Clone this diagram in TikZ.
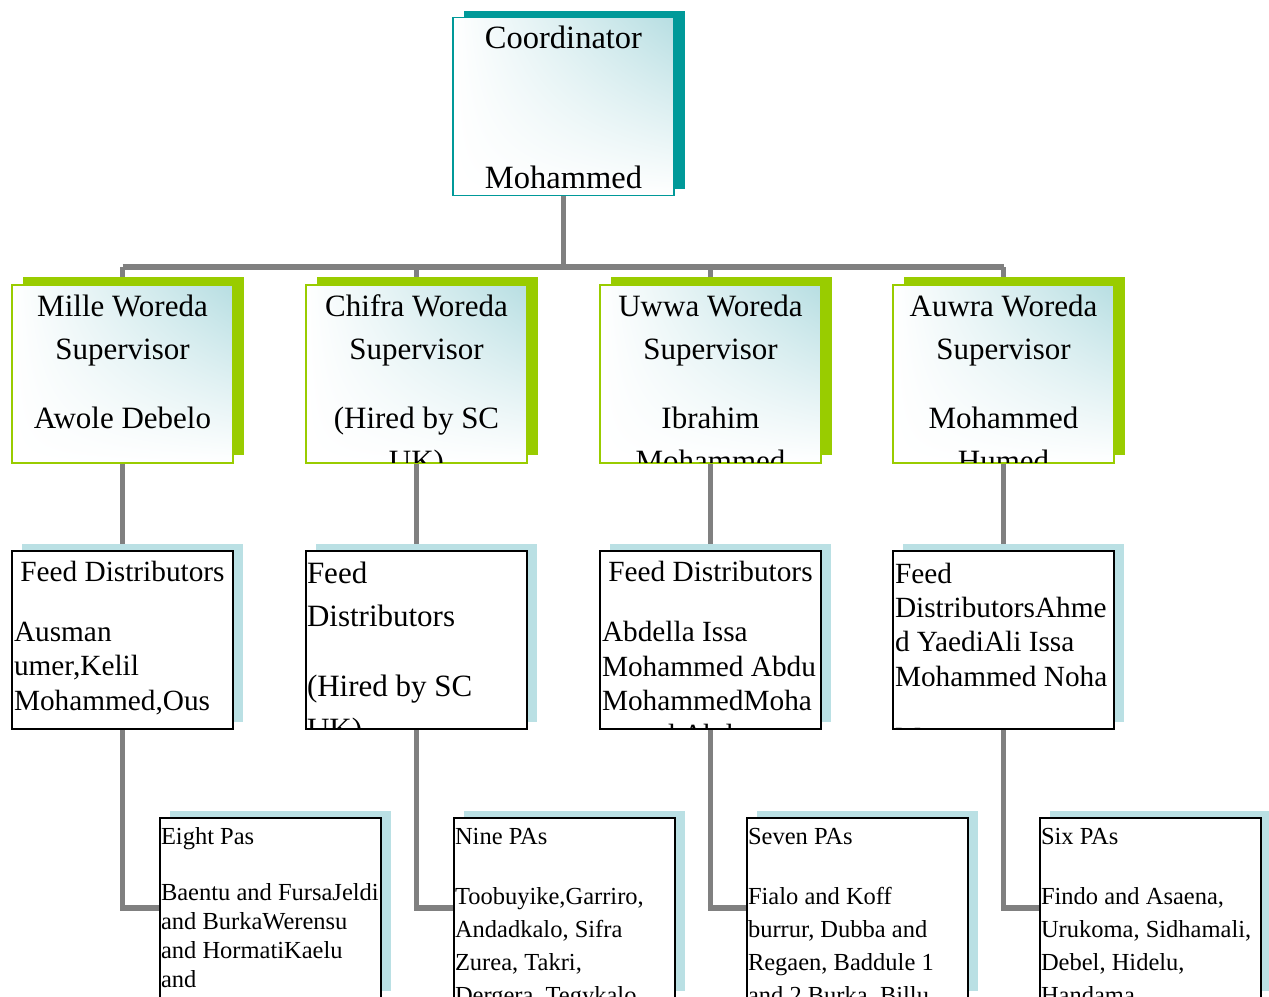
\documentclass[tikz,border=0pt]{standalone}
\usepackage{fontspec}
\setmainfont{Liberation Serif}
\usetikzlibrary{shadows,calc,shadings}
\definecolor{tealc}{RGB}{0,153,153}
\definecolor{greenc}{RGB}{153,204,0}
\definecolor{lblue}{RGB}{183,222,226}
\definecolor{shadc}{RGB}{186,224,228}
\definecolor{connc}{RGB}{128,128,128}
\newcommand\fcoord{\fontsize{32.5}{40}\selectfont}
\newcommand\fsup{\fontsize{31}{40}\selectfont}
\newcommand\ffeed{\fontsize{29.3}{35}\selectfont}
\newcommand\fpa{\fontsize{24.5}{30}\selectfont}
\newcommand\clipbox[1]{\clip ($(#1.south west)+(1,-1)$) rectangle ($(#1.north east)+(-1,1)$);}
\pgfdeclarelayer{paper}
\pgfdeclarelayer{bg}
\pgfsetlayers{paper,bg,main}
\begin{document}
\begin{tikzpicture}[x=1pt,y=-1pt,
  box/.style={rectangle, minimum width=221pt, minimum height=178pt, inner sep=0pt, outer sep=0pt},
  coordbox/.style={box, draw=tealc, line width=1.5pt, shading=bilinear interpolation, upper left=white, upper right=lblue, lower left=white, lower right=white,
    general shadow={fill=tealc, shadow xshift=11pt, shadow yshift=7pt}},
  supbox/.style={box, draw=greenc, line width=1.5pt, shading=bilinear interpolation, upper left=white, upper right=lblue, lower left=white, lower right=white,
    general shadow={fill=greenc, shadow xshift=11pt, shadow yshift=8pt}},
  plainbox/.style={box, draw=black, line width=1.5pt, fill=white,
    general shadow={fill=shadc, shadow xshift=10pt, shadow yshift=7pt}},
  pabox/.style={plainbox, minimum height=179.5pt},
  conn/.style={draw=connc, line width=5.5pt},
  ctxt/.style={inner sep=0pt, outer sep=0pt, anchor=base},
  ltxt/.style={inner sep=0pt, outer sep=0pt, anchor=base west},
]
\useasboundingbox (0,0) rectangle (1269,996);
\begin{pgfonlayer}{paper}
\fill[white] (0,0) rectangle (1269,996);
\end{pgfonlayer}

% boxes
\node[coordbox] (coord) at (563.5,106.5) {};
\node[supbox] (sup1) at (122.5,374) {};
\node[supbox] (sup2) at (416.5,374) {};
\node[supbox] (sup3) at (710.5,374) {};
\node[supbox] (sup4) at (1003.5,374) {};
\node[plainbox] (feed1) at (122.5,640) {};
\node[plainbox] (feed2) at (416.5,640) {};
\node[plainbox] (feed3) at (710.5,640) {};
\node[plainbox] (feed4) at (1003.5,640) {};
\node[pabox] (pa1) at (270.5,907.75) {};
\node[pabox] (pa2) at (564.5,907.75) {};
\node[pabox] (pa3) at (857.5,907.75) {};
\node[pabox] (pa4) at (1150.5,907.75) {};

% connectors
\begin{pgfonlayer}{bg}
\coordinate (bus) at (563.5,267);
\draw[conn] (coord.south) -- (bus);
\draw[conn] (sup1.north |- bus) -- (sup4.north |- bus);
\foreach \i in {1,2,3,4}{
  \draw[conn] (sup\i.north |- bus) -- (sup\i.north);
  \draw[conn] (sup\i.south) -- (feed\i.north);
  \draw[conn] (feed\i.south) |- (pa\i.west);
}
\end{pgfonlayer}

% coordinator text
\begin{scope}\clipbox{coord}
\node[ctxt, font=\fcoord] (c1) at (563.5,48) {Coordinator};
\node[ctxt, font=\fcoord] (c2) at (563.5,188) {Mohammed};
\end{scope}

% supervisors
\begin{scope}\clipbox{sup1}
\node[ctxt, font=\fsup] (s11) at (122.5,316) {Mille Woreda};
\node[ctxt, font=\fsup] (s12) at (122.5,359) {Supervisor};
\node[ctxt, font=\fsup] (s13) at (122.5,428) {Awole Debelo};
\end{scope}
\begin{scope}\clipbox{sup2}
\node[ctxt, font=\fsup] (s21) at (416.5,316) {Chifra Woreda};
\node[ctxt, font=\fsup] (s22) at (416.5,359) {Supervisor};
\node[ctxt, font=\fsup] (s23) at (416.5,428) {(Hired by SC};
\node[ctxt, font=\fsup] (s24) at (416.5,471) {UK)};
\end{scope}
\begin{scope}\clipbox{sup3}
\node[ctxt, font=\fsup] (s31) at (710.5,316) {Uwwa Woreda};
\node[ctxt, font=\fsup] (s32) at (710.5,359) {Supervisor};
\node[ctxt, font=\fsup] (s33) at (710.5,428) {Ibrahim};
\node[ctxt, font=\fsup] (s34) at (710.5,471) {Mohammed};
\end{scope}
\begin{scope}\clipbox{sup4}
\node[ctxt, font=\fsup] (s41) at (1003.5,316) {Auwra Woreda};
\node[ctxt, font=\fsup] (s42) at (1003.5,359) {Supervisor};
\node[ctxt, font=\fsup] (s43) at (1003.5,428) {Mohammed};
\node[ctxt, font=\fsup] (s44) at (1003.5,471) {Humed};
\end{scope}

% feed distributors
\begin{scope}\clipbox{feed1}
\node[ctxt, font=\ffeed] (f11) at (122.5,581) {Feed Distributors};
\node[ltxt, font=\ffeed] (f12) at (14,641) {Ausman};
\node[ltxt, font=\ffeed] (f13) at (14,675) {umer,Kelil};
\node[ltxt, font=\ffeed] (f14) at (14,710) {Mohammed,Ous};
\end{scope}
\begin{scope}\clipbox{feed2}
\node[ltxt, font=\fsup] (f21) at (307,583) {Feed};
\node[ltxt, font=\fsup] (f22) at (307,626) {Distributors};
\node[ltxt, font=\fsup] (f23) at (307,696) {(Hired by SC};
\node[ltxt, font=\fsup] (f24) at (307,739) {UK)};
\end{scope}
\begin{scope}\clipbox{feed3}
\node[ctxt, font=\ffeed] (f31) at (710.5,581) {Feed Distributors};
\node[ltxt, font=\ffeed] (f32) at (602,641) {Abdella Issa};
\node[ltxt, font=\ffeed] (f33) at (602,676) {Mohammed Abdu};
\node[ltxt, font=\ffeed] (f34) at (602,710) {MohammedMoha};
\node[ltxt, font=\ffeed] (f35) at (602,744) {mmed Abdu};
\end{scope}
\begin{scope}\clipbox{feed4}
\node[ltxt, font=\ffeed] (f41) at (895,583) {Feed};
\node[ltxt, font=\ffeed] (f42) at (895,617) {DistributorsAhme};
\node[ltxt, font=\ffeed] (f43) at (895,651) {d YaediAli Issa};
\node[ltxt, font=\ffeed] (f44) at (895,686) {Mohammed Noha};
\node[ltxt, font=\ffeed] (f45) at (895,747) {M};
\end{scope}

% PAs
\begin{scope}\clipbox{pa1}
\node[ltxt, font=\fpa] (p11) at (161,844) {Eight Pas};
\node[ltxt, font=\fpa] (p12) at (161,900) {Baentu and FursaJeldi};
\node[ltxt, font=\fpa] (p13) at (161,929) {and BurkaWerensu};
\node[ltxt, font=\fpa] (p14) at (161,958) {and HormatiKaelu};
\node[ltxt, font=\fpa] (p15) at (161,987) {and};
\end{scope}
\begin{scope}\clipbox{pa2}
\node[ltxt, font=\fpa] (p21) at (455,844) {Nine PAs};
\node[ltxt, font=\fpa] (p22) at (455,904) {Toobuyike,Garriro,};
\node[ltxt, font=\fpa] (p23) at (455,937) {Andadkalo, Sifra};
\node[ltxt, font=\fpa] (p24) at (455,970) {Zurea, Takri,};
\node[ltxt, font=\fpa] (p25) at (455,1003) {Dergera, Tegykalo};
\end{scope}
\begin{scope}\clipbox{pa3}
\node[ltxt, font=\fpa] (p31) at (748,844) {Seven PAs};
\node[ltxt, font=\fpa] (p32) at (748,904) {Fialo and Koff};
\node[ltxt, font=\fpa] (p33) at (748,937) {burrur, Dubba and};
\node[ltxt, font=\fpa] (p34) at (748,970) {Regaen, Baddule 1};
\node[ltxt, font=\fpa] (p35) at (748,1003) {and 2 Burka, Billu};
\end{scope}
\begin{scope}\clipbox{pa4}
\node[ltxt, font=\fpa] (p41) at (1041,844) {Six PAs};
\node[ltxt, font=\fpa] (p42) at (1041,904) {Findo and Asaena,};
\node[ltxt, font=\fpa] (p43) at (1041,937) {Urukoma, Sidhamali,};
\node[ltxt, font=\fpa] (p44) at (1041,970) {Debel, Hidelu,};
\node[ltxt, font=\fpa] (p45) at (1041,1003) {Handama};
\end{scope}
\end{tikzpicture}
\end{document}
